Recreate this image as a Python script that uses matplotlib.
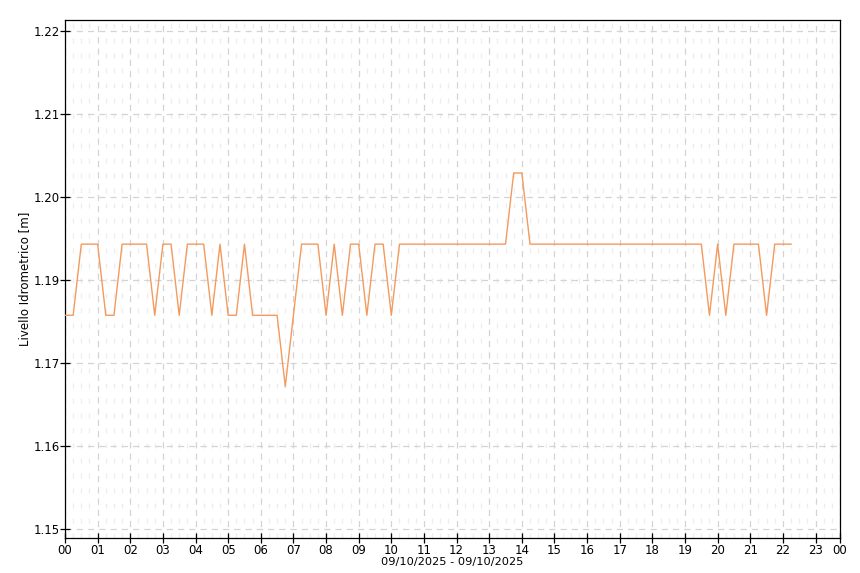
import numpy as np
import matplotlib
matplotlib.use("Agg")
import matplotlib.pyplot as plt

# livello idrometrico, campioni ogni 15 minuti dal 09/10/2025 00:00
level = [1.18, 1.18, 1.19, 1.19, 1.19, 1.18, 1.18, 1.19, 1.19, 1.19,
         1.19, 1.18, 1.19, 1.19, 1.18, 1.19, 1.19, 1.19, 1.18, 1.19,
         1.18, 1.18, 1.19, 1.18, 1.18, 1.18, 1.18, 1.17, 1.18, 1.19,
         1.19, 1.19, 1.18, 1.19, 1.18, 1.19, 1.19, 1.18, 1.19, 1.19,
         1.18, 1.19, 1.19, 1.19, 1.19, 1.19, 1.19, 1.19, 1.19, 1.19,
         1.19, 1.19, 1.19, 1.19, 1.19, 1.20, 1.20, 1.19, 1.19, 1.19,
         1.19, 1.19, 1.19, 1.19, 1.19, 1.19, 1.19, 1.19, 1.19, 1.19,
         1.19, 1.19, 1.19, 1.19, 1.19, 1.19, 1.19, 1.19, 1.19, 1.18,
         1.19, 1.18, 1.19, 1.19, 1.19, 1.19, 1.18, 1.19, 1.19, 1.19]
step_h = 0.25
hours = np.arange(len(level)) * step_h

x_ticks = list(range(24)) + [23.75]
x_labels = ["%02d" % h for h in range(24)] + ["00"]
y_ticks = np.linspace(1.15, 1.22, 7)
y_labels = ["1.15", "1.16", "1.17", "1.19", "1.20", "1.21", "1.22"]
date_label = "09/10/2025 - 09/10/2025"
y_title = "Livello Idrometrico [m]"

fig = plt.figure(figsize=(8.6, 5.73), dpi=100)
ax = fig.add_axes([65 / 860, 1 - 538 / 573, 775 / 860, 518 / 573])

ax.plot(hours, level, color='#f39a5e', lw=1.0, zorder=3)

ax.set_xlim(0, 23.75)
ax.set_ylim(1.1487, 1.2215)
ax.set_xticks(x_ticks)
ax.set_xticklabels(x_labels)
ax.set_xticks(np.arange(0, 23.75, step_h), minor=True)
ax.set_yticks(y_ticks)
ax.set_yticklabels(y_labels)

ax.grid(which='major', color='#d4d4d4', linestyle=(0, (5, 4)), lw=0.9)
ax.grid(which='minor', axis='x', color='#ededed', linestyle=(0, (4, 8)), lw=0.9)
ax.tick_params(which='major', direction='inout', length=7, width=0.9,
               labelsize=8.5, pad=1, colors='black')
ax.tick_params(axis='y', pad=0)
ax.tick_params(which='minor', length=0)
for s in ax.spines.values():
    s.set_color('black')
    s.set_linewidth(0.9)

ax.set_xlabel(date_label, fontsize=8.2, labelpad=0)
ax.set_ylabel(y_title, fontsize=8.5, labelpad=2)

fig.savefig("out.png", dpi=100)
